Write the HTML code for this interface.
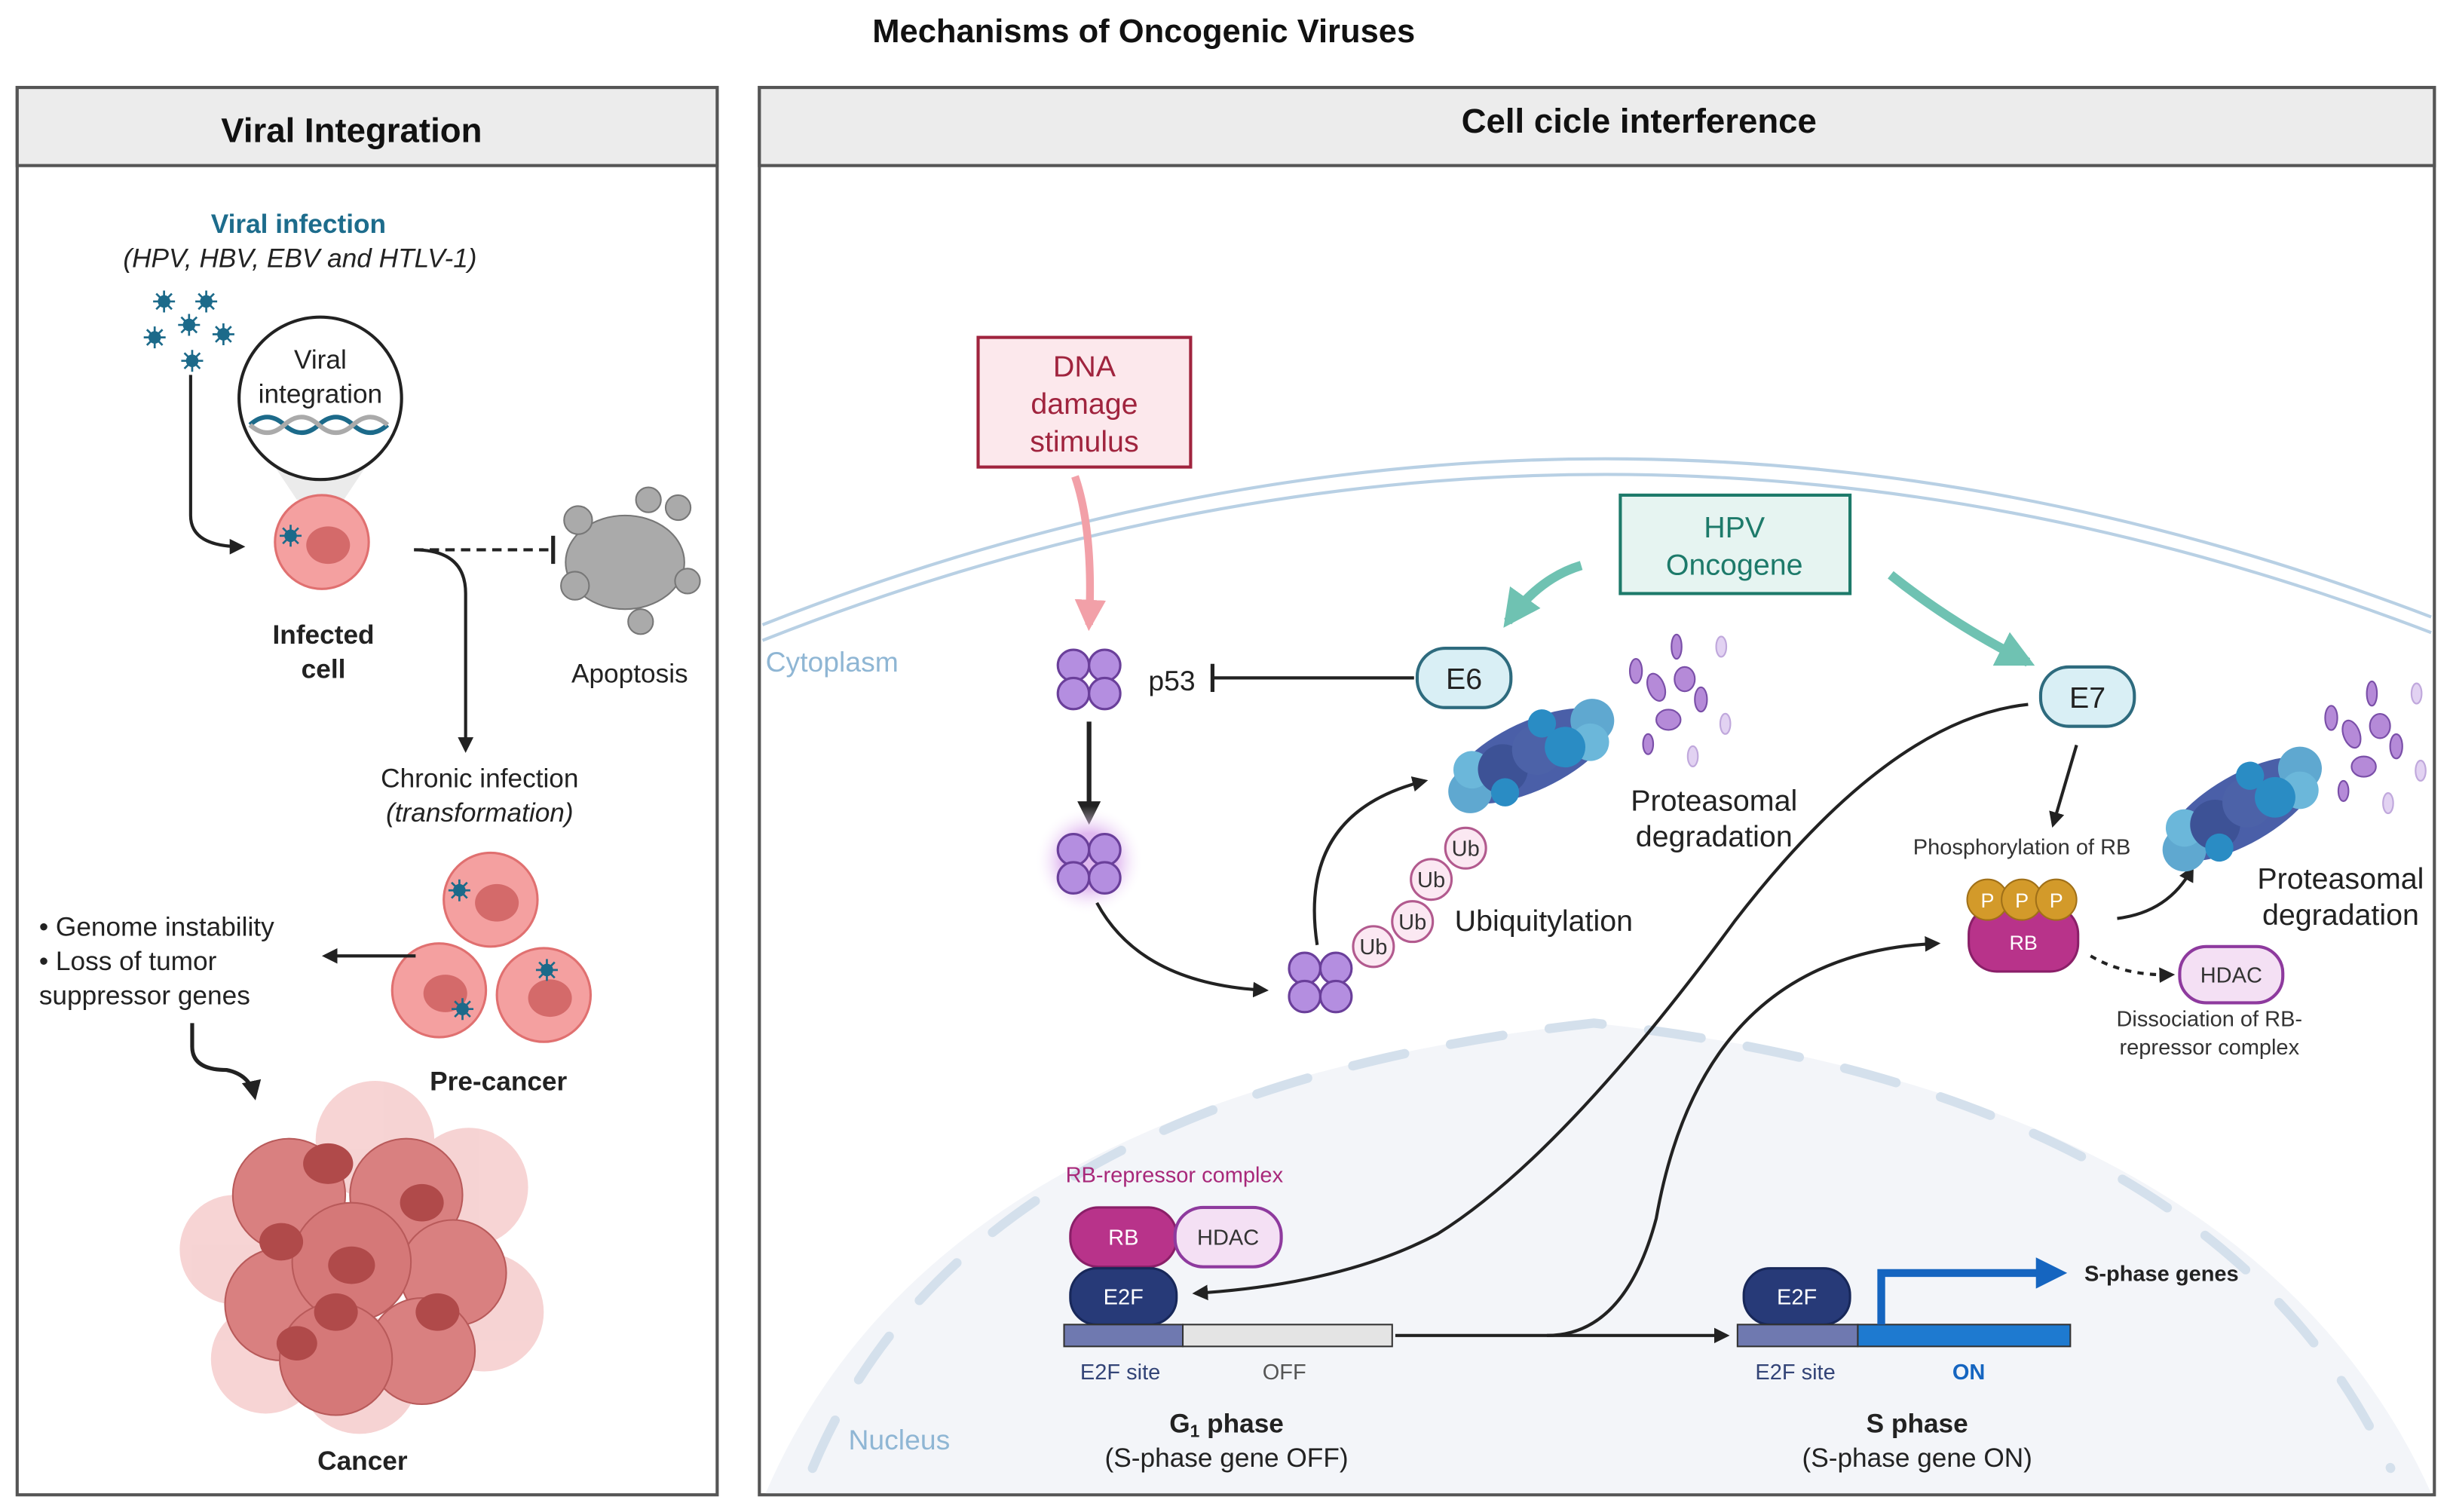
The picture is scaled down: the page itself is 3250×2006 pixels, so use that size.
<!DOCTYPE html>
<html><head><meta charset="utf-8"><style>
html,body{margin:0;padding:0;background:#fff}
svg{display:block}
text{font-family:"Liberation Sans",sans-serif}
</style></head><body>
<svg width="3250" height="2006" viewBox="0 0 1568 968" preserveAspectRatio="none" xmlns="http://www.w3.org/2000/svg">
<defs>
<marker id="ah" viewBox="0 0 10 10" refX="8" refY="5" markerWidth="5" markerHeight="5" orient="auto"><path d="M0,0 L10,5 L0,10 z" fill="#222"/></marker>
<marker id="ahp" viewBox="0 0 10 10" refX="8" refY="5" markerWidth="4" markerHeight="4" orient="auto"><path d="M0,0 L10,5 L0,10 z" fill="#f2a0a8"/></marker>
<marker id="aht" viewBox="0 0 10 10" refX="8" refY="5" markerWidth="4" markerHeight="4" orient="auto"><path d="M0,0 L10,5 L0,10 z" fill="#6fc2b2"/></marker>
<radialGradient id="glow"><stop offset="0.5" stop-color="#d9a8ec" stop-opacity="0.8"/><stop offset="1" stop-color="#fff" stop-opacity="0"/></radialGradient>
<g id="prot">
 <ellipse cx="0" cy="0" rx="55" ry="22" fill="#4a5fa8"/>
 <circle cx="-45" cy="4" r="14" fill="#5fa8d0"/><circle cx="-38" cy="-8" r="12" fill="#6bb7da"/>
 <circle cx="45" cy="-4" r="14" fill="#5fa8d0"/><circle cx="38" cy="8" r="12" fill="#6bb7da"/>
 <circle cx="-20" cy="0" r="16" fill="#3d5296"/><circle cx="5" cy="-2" r="16" fill="#4c62a8"/><circle cx="22" cy="4" r="13" fill="#2a8cc4"/>
 <circle cx="-25" cy="14" r="9" fill="#2a8cc4"/><circle cx="15" cy="-16" r="9" fill="#2a8cc4"/>
</g>
<g id="frag" stroke="#7a4fa8" stroke-width="0.8">
 <g fill="#b58ad8">
 <ellipse cx="0" cy="0" rx="4" ry="7" transform="rotate(-20)"/><ellipse cx="14" cy="-4" rx="5" ry="6"/><ellipse cx="-10" cy="-8" rx="3" ry="6"/>
 <ellipse cx="6" cy="16" rx="6" ry="5"/><ellipse cx="22" cy="6" rx="3" ry="6"/><ellipse cx="-4" cy="28" rx="2.5" ry="5"/><ellipse cx="10" cy="-20" rx="2.5" ry="6"/>
 </g>
 <g fill="#e2d2f2" stroke="#c0a8dc"><ellipse cx="32" cy="-20" rx="2.5" ry="5"/><ellipse cx="34" cy="18" rx="2.5" ry="5"/><ellipse cx="18" cy="34" rx="2.5" ry="5"/></g>
</g>
<g id="p53">
 <circle cx="-10" cy="-8" r="10" fill="#b48ee0" stroke="#6a3f9a" stroke-width="1.5"/><circle cx="10" cy="-8" r="10" fill="#b48ee0" stroke="#6a3f9a" stroke-width="1.5"/>
 <circle cx="-10" cy="10" r="10" fill="#b48ee0" stroke="#6a3f9a" stroke-width="1.5"/><circle cx="10" cy="10" r="10" fill="#b48ee0" stroke="#6a3f9a" stroke-width="1.5"/>
</g>
<g id="cell">
 <circle r="30" fill="#f4a0a0" stroke="#e07070" stroke-width="1.5"/>
 <ellipse cx="4" cy="2" rx="14" ry="12" fill="#d46a6a"/>
</g>
<g id="virus" fill="#1c6a8a"><circle r="4"/><path d="M-7,0 H7 M0,-7 V7 M-5,-5 L5,5 M-5,5 L5,-5" stroke="#1c6a8a" stroke-width="1.3"/></g>
</defs>

<text x="732" y="27" text-anchor="middle" font-size="21" font-weight="bold" fill="#111">Mechanisms of Oncogenic Viruses</text>

<!-- Left panel -->
<rect x="11" y="56" width="448" height="901" fill="#fff" stroke="#555" stroke-width="2"/>
<rect x="11" y="56" width="448" height="50" fill="#ececec" stroke="#555" stroke-width="2"/>
<text x="225" y="91" text-anchor="middle" font-size="22" font-weight="bold" fill="#111">Viral Integration</text>
<text x="191" y="149" text-anchor="middle" font-size="17" font-weight="bold" fill="#1d6c8c">Viral infection</text>
<text x="192" y="171" text-anchor="middle" font-size="17" font-style="italic" fill="#222">(HPV, HBV, EBV and HTLV-1)</text>
<use href="#virus" x="105" y="193"/><use href="#virus" x="132" y="193"/><use href="#virus" x="121" y="208"/><use href="#virus" x="99" y="216"/><use href="#virus" x="143" y="214"/><use href="#virus" x="123" y="231"/>
<path d="M122,240 V330 Q122,350 155,350" fill="none" stroke="#222" stroke-width="2" marker-end="url(#ah)"/>
<path d="M170,290 L240,290 L220,320 L190,320z" fill="#ddd" opacity="0.6"/>
<use href="#cell" x="206" y="347"/>
<use href="#virus" x="186" y="343"/>
<circle cx="205" cy="255" r="52" fill="#fff" stroke="#222" stroke-width="2"/>
<text x="205" y="236" text-anchor="middle" font-size="17" fill="#222">Viral</text>
<text x="205" y="258" text-anchor="middle" font-size="17" fill="#222">integration</text>
<path d="M160,272 q11,-10 22,0 t22,0 t22,0 t22,0" fill="none" stroke="#1c6a8a" stroke-width="3"/>
<path d="M160,272 q11,10 22,0 t22,0 t22,0 t22,0" fill="none" stroke="#aaa" stroke-width="3"/>
<text x="207" y="412" text-anchor="middle" font-size="17" font-weight="bold" fill="#222">Infected</text>
<text x="207" y="434" text-anchor="middle" font-size="17" font-weight="bold" fill="#222">cell</text>
<line x1="265" y1="352" x2="352" y2="352" stroke="#222" stroke-width="2" stroke-dasharray="6,4"/>
<line x1="354" y1="343" x2="354" y2="361" stroke="#222" stroke-width="2.5"/>
<g fill="#aaa" stroke="#777">
<ellipse cx="400" cy="360" rx="38" ry="30"/><circle cx="370" cy="333" r="9"/><circle cx="434" cy="325" r="8"/><circle cx="368" cy="375" r="9"/><circle cx="440" cy="372" r="8"/><circle cx="410" cy="398" r="8"/><circle cx="415" cy="320" r="8"/>
</g>
<text x="403" y="437" text-anchor="middle" font-size="17" fill="#222">Apoptosis</text>
<path d="M265,352 Q298,352 298,380 V480" fill="none" stroke="#222" stroke-width="2" marker-end="url(#ah)"/>
<text x="307" y="504" text-anchor="middle" font-size="17" fill="#222">Chronic infection</text>
<text x="307" y="526" text-anchor="middle" font-size="17" font-style="italic" fill="#222">(transformation)</text>
<use href="#cell" x="314" y="576"/><use href="#cell" x="281" y="634"/><use href="#cell" x="348" y="637"/>
<use href="#virus" x="294" y="570"/><use href="#virus" x="296" y="646"/><use href="#virus" x="350" y="621"/>
<line x1="266" y1="612" x2="208" y2="612" stroke="#222" stroke-width="2" marker-end="url(#ah)"/>
<text x="25" y="599" font-size="17" fill="#222">• Genome instability</text>
<text x="25" y="621" font-size="17" fill="#222">• Loss of tumor</text>
<text x="25" y="643" font-size="17" fill="#222">suppressor genes</text>
<text x="319" y="698" text-anchor="middle" font-size="17" font-weight="bold" fill="#222">Pre-cancer</text>
<path d="M123,655 V670 Q123,685 145,685 Q160,688 163,702" fill="none" stroke="#222" stroke-width="2.5" marker-end="url(#ah)"/>
<g opacity="0.55"><circle cx="150" cy="800" r="35" fill="#f0b0b0"/><circle cx="300" cy="760" r="38" fill="#f0b0b0"/><circle cx="310" cy="840" r="38" fill="#f0b0b0"/><circle cx="170" cy="870" r="35" fill="#f0b0b0"/><circle cx="240" cy="730" r="38" fill="#f0b0b0"/><circle cx="230" cy="880" r="38" fill="#f0b0b0"/></g>
<g>
<circle cx="185" cy="765" r="36" fill="#d98080" stroke="#b85a5a"/><circle cx="260" cy="765" r="36" fill="#d98080" stroke="#b85a5a"/>
<circle cx="180" cy="835" r="36" fill="#d98080" stroke="#b85a5a"/><circle cx="290" cy="815" r="34" fill="#d98080" stroke="#b85a5a"/>
<circle cx="225" cy="808" r="38" fill="#d57878" stroke="#b85a5a"/><circle cx="270" cy="865" r="34" fill="#d98080" stroke="#b85a5a"/>
<circle cx="215" cy="870" r="36" fill="#d57878" stroke="#b85a5a"/>
<ellipse cx="210" cy="745" rx="16" ry="13" fill="#b04a4a"/><ellipse cx="270" cy="770" rx="14" ry="12" fill="#b04a4a"/><ellipse cx="180" cy="795" rx="14" ry="12" fill="#b04a4a"/><ellipse cx="225" cy="810" rx="15" ry="12" fill="#b04a4a"/><ellipse cx="280" cy="840" rx="14" ry="12" fill="#b04a4a"/><ellipse cx="215" cy="840" rx="14" ry="12" fill="#b04a4a"/><ellipse cx="190" cy="860" rx="13" ry="11" fill="#b04a4a"/>
</g>
<text x="232" y="941" text-anchor="middle" font-size="17" font-weight="bold" fill="#222">Cancer</text>

<!-- Right panel -->
<rect x="486" y="56" width="1072" height="901" fill="#fff" stroke="#555" stroke-width="2"/>
<path d="M490,956 Q600,700 1020,655 Q1440,700 1556,956 Z" fill="#f3f5f9"/>
<path d="M520,940 Q620,700 1020,655 Q1420,700 1530,940" fill="none" stroke="#d4e0ec" stroke-width="6" stroke-linecap="round" stroke-dasharray="34,30"/>
<path d="M488,400 Q1020,190 1556,395" fill="none" stroke="#b8d0e4" stroke-width="2"/>
<path d="M488,410 Q1020,200 1556,405" fill="none" stroke="#b8d0e4" stroke-width="2"/>
<rect x="486" y="56" width="1072" height="50" fill="#ececec" stroke="#555" stroke-width="2"/>
<text x="1049" y="85" text-anchor="middle" font-size="22" font-weight="bold" fill="#111">Cell cicle interference</text>
<text x="490" y="430" font-size="18" fill="#8fb6d4">Cytoplasm</text>
<text x="543" y="928" font-size="18" fill="#8fb6d4">Nucleus</text>

<rect x="626" y="216" width="136" height="83" fill="#fce8ec" stroke="#a0243e" stroke-width="2"/>
<text x="694" y="241" text-anchor="middle" font-size="19" fill="#a0243e">DNA</text>
<text x="694" y="265" text-anchor="middle" font-size="19" fill="#a0243e">damage</text>
<text x="694" y="289" text-anchor="middle" font-size="19" fill="#a0243e">stimulus</text>
<path d="M688,305 Q700,340 697,400" fill="none" stroke="#f2a0a8" stroke-width="5" marker-end="url(#ahp)"/>

<rect x="1037" y="317" width="147" height="63" fill="#e6f4f1" stroke="#1d7a6a" stroke-width="2"/>
<text x="1110" y="344" text-anchor="middle" font-size="19" fill="#1d7a6a">HPV</text>
<text x="1110" y="368" text-anchor="middle" font-size="19" fill="#1d7a6a">Oncogene</text>
<path d="M1012,362 Q985,370 965,398" fill="none" stroke="#6fc2b2" stroke-width="6" marker-end="url(#aht)"/>
<path d="M1210,368 Q1250,400 1298,424" fill="none" stroke="#6fc2b2" stroke-width="6" marker-end="url(#aht)"/>

<use href="#p53" x="697" y="434"/>
<text x="735" y="442" font-size="18" fill="#222">p53</text>
<line x1="905" y1="434" x2="777" y2="434" stroke="#222" stroke-width="2"/>
<line x1="776" y1="425" x2="776" y2="443" stroke="#222" stroke-width="2.5"/>
<rect x="907" y="415" width="60" height="38" rx="18" fill="#d9eff5" stroke="#2e6b7e" stroke-width="2"/>
<text x="937" y="441" text-anchor="middle" font-size="19" fill="#222">E6</text>
<line x1="697" y1="462" x2="697" y2="525" stroke="#222" stroke-width="3" marker-end="url(#ah)"/>
<circle cx="697" cy="551" r="35" fill="url(#glow)"/>
<use href="#p53" x="697" y="552"/>
<path d="M702,578 Q730,630 810,634" fill="none" stroke="#222" stroke-width="2" marker-end="url(#ah)"/>
<use href="#p53" x="845" y="628"/>
<path d="M843,605 Q830,520 912,500" fill="none" stroke="#222" stroke-width="2" marker-end="url(#ah)"/>
<g fill="#fbe8f2" stroke="#b25a8e" stroke-width="1.5" font-size="14">
<circle cx="879" cy="606" r="13"/><circle cx="904" cy="590" r="13"/><circle cx="916" cy="563" r="13"/><circle cx="938" cy="543" r="13"/>
</g>
<g font-size="14" fill="#333" text-anchor="middle"><text x="879" y="611">Ub</text><text x="904" y="595">Ub</text><text x="916" y="568">Ub</text><text x="938" y="548">Ub</text></g>
<text x="931" y="596" font-size="19" fill="#222">Ubiquitylation</text>
<use href="#prot" transform="translate(980,484) rotate(-25)"/>
<use href="#frag" transform="translate(1060,440) scale(1.3)"/>
<text x="1097" y="519" text-anchor="middle" font-size="19" fill="#222">Proteasomal</text>
<text x="1097" y="542" text-anchor="middle" font-size="19" fill="#222">degradation</text>

<rect x="1306" y="427" width="60" height="38" rx="18" fill="#d9eff5" stroke="#2e6b7e" stroke-width="2"/>
<text x="1336" y="453" text-anchor="middle" font-size="19" fill="#222">E7</text>
<line x1="1329" y1="477" x2="1314" y2="528" stroke="#222" stroke-width="2" marker-end="url(#ah)"/>
<text x="1294" y="547" text-anchor="middle" font-size="14" fill="#333">Phosphorylation of RB</text>
<rect x="1260" y="580" width="70" height="42" rx="18" fill="#b8338a" stroke="#8a1f68" stroke-width="1.5"/>
<circle cx="1272" cy="576" r="13" fill="#d39a2a" stroke="#a07018"/><circle cx="1294" cy="576" r="13" fill="#d39a2a" stroke="#a07018"/><circle cx="1316" cy="576" r="13" fill="#d39a2a" stroke="#a07018"/>
<g font-size="13" fill="#fff" text-anchor="middle"><text x="1272" y="581">P</text><text x="1294" y="581">P</text><text x="1316" y="581">P</text><text x="1295" y="608">RB</text></g>
<path d="M1355,588 Q1388,584 1403,556" fill="none" stroke="#222" stroke-width="2" marker-end="url(#ah)"/>
<path d="M1338,612 Q1360,625 1390,624" fill="none" stroke="#222" stroke-width="2" stroke-dasharray="4,4" marker-end="url(#ah)"/>
<rect x="1395" y="606" width="66" height="36" rx="17" fill="#f4e0f4" stroke="#8e3a9e" stroke-width="2"/>
<text x="1428" y="629" text-anchor="middle" font-size="14" fill="#333">HDAC</text>
<text x="1414" y="657" text-anchor="middle" font-size="14" fill="#333">Dissociation of RB-</text>
<text x="1414" y="675" text-anchor="middle" font-size="14" fill="#333">repressor complex</text>
<use href="#prot" transform="translate(1435,518) rotate(-30)"/>
<use href="#frag" transform="translate(1505,470) scale(1.3)"/>
<text x="1498" y="569" text-anchor="middle" font-size="19" fill="#222">Proteasomal</text>
<text x="1498" y="592" text-anchor="middle" font-size="19" fill="#222">degradation</text>

<path d="M1298,451 Q1210,460 1110,590 Q1000,740 920,790 Q860,822 765,828" fill="none" stroke="#222" stroke-width="2" marker-end="url(#ah)"/>
<path d="M893,855 L990,855 Q1040,855 1060,780 Q1090,610 1240,604" fill="none" stroke="#222" stroke-width="2" marker-end="url(#ah)"/>
<line x1="990" y1="855" x2="1105" y2="855" stroke="#222" stroke-width="2" marker-end="url(#ah)"/>

<text x="682" y="757" font-size="14" fill="#a8287a">RB-repressor complex</text>
<rect x="685" y="773" width="68" height="38" rx="18" fill="#b8338a" stroke="#8a1f68" stroke-width="1.5"/>
<text x="719" y="797" text-anchor="middle" font-size="14" fill="#fff">RB</text>
<rect x="752" y="773" width="68" height="38" rx="18" fill="#f4e0f4" stroke="#8e3a9e" stroke-width="2"/>
<text x="786" y="797" text-anchor="middle" font-size="14" fill="#333">HDAC</text>
<rect x="685" y="812" width="68" height="36" rx="17" fill="#273a78" stroke="#18285a" stroke-width="1.5"/>
<text x="719" y="835" text-anchor="middle" font-size="14" fill="#fff">E2F</text>
<rect x="681" y="848" width="76" height="14" fill="#6f79b0" stroke="#333"/>
<rect x="757" y="848" width="134" height="14" fill="#e4e4e4" stroke="#333"/>
<text x="717" y="883" text-anchor="middle" font-size="14" fill="#334477">E2F site</text>
<text x="822" y="883" text-anchor="middle" font-size="14" fill="#555">OFF</text>
<text x="785" y="917" text-anchor="middle" font-size="17" font-weight="bold" fill="#222">G<tspan font-size="11" dy="3">1</tspan><tspan dy="-3"> phase</tspan></text>
<text x="785" y="939" text-anchor="middle" font-size="17" fill="#222">(S-phase gene OFF)</text>

<rect x="1116" y="812" width="68" height="36" rx="17" fill="#273a78" stroke="#18285a" stroke-width="1.5"/>
<text x="1150" y="835" text-anchor="middle" font-size="14" fill="#fff">E2F</text>
<rect x="1112" y="848" width="77" height="14" fill="#6f79b0" stroke="#333"/>
<rect x="1189" y="848" width="136" height="14" fill="#1e7ad0" stroke="#333"/>
<path d="M1204,848 V815 H1305" fill="none" stroke="#1565c0" stroke-width="5"/>
<path d="M1303,805 L1323,815 L1303,825z" fill="#1565c0"/>
<text x="1334" y="820" font-size="14" font-weight="bold" fill="#222">S-phase genes</text>
<text x="1149" y="883" text-anchor="middle" font-size="14" fill="#334477">E2F site</text>
<text x="1260" y="883" text-anchor="middle" font-size="14" font-weight="bold" fill="#1565c0">ON</text>
<text x="1227" y="917" text-anchor="middle" font-size="17" font-weight="bold" fill="#222">S phase</text>
<text x="1227" y="939" text-anchor="middle" font-size="17" fill="#222">(S-phase gene ON)</text>
</svg>
</body></html>
